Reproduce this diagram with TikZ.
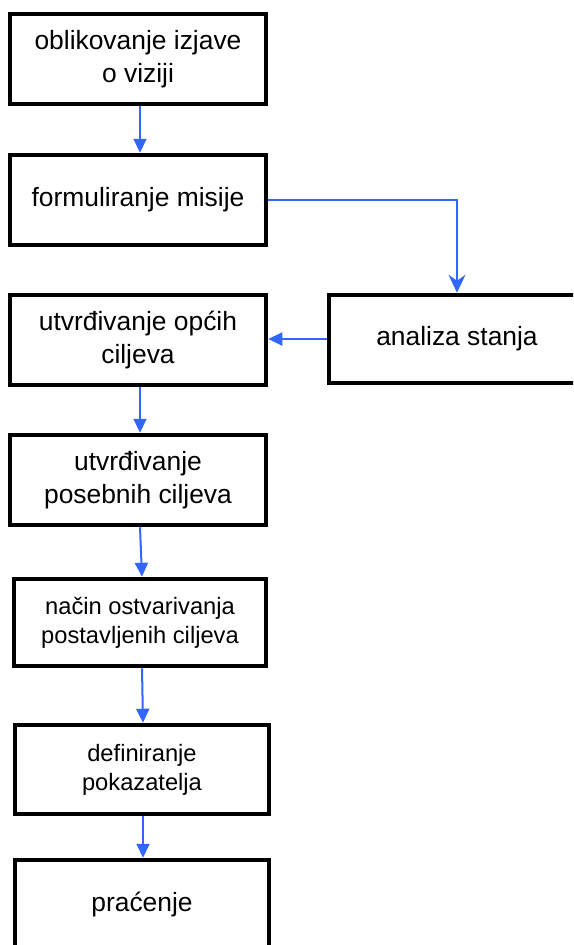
\documentclass[tikz,border=0pt]{standalone}
\usepackage{fontspec}
\setmainfont{Liberation Sans}
\usetikzlibrary{arrows.meta}
\definecolor{arrblue}{HTML}{3366FF}
\begin{document}
\begin{tikzpicture}[x=1pt,y=-1pt,
  box/.style={draw=black, line width=4.5pt, fill=white, rectangle, align=center,
    minimum width=256pt, minimum height=90pt, inner sep=0pt,
    font=\fontsize{26.4}{33}\selectfont},
  smallbox/.style={box, font=\fontsize{23.7}{29}\selectfont},
  flow/.style={draw=arrblue, line width=2pt, -{Triangle[length=14pt,width=13pt]}},
  flowv/.style={draw=arrblue, line width=2pt, -{Stealth[length=18pt,width=17pt,inset=6pt]}}]
\clip (0,0) rectangle (573,945);
\fill[white] (0,0) rectangle (573,945);
\node[box] (b1) at (138,59) {oblikovanje izjave\\o viziji};
\node[box] (b2) at (138,200) {formuliranje misije};
\node[box] (b3) at (138,340) {utvrđivanje općih\\ciljeva};
\node[box, minimum height=88pt] (an) at (457,339) {analiza stanja};
\node[box] (b4) at (138,480) {utvrđivanje\\posebnih ciljeva};
\node[smallbox, minimum height=87pt, minimum width=252pt] (b5) at (140,622.5) {način ostvarivanja\\postavljenih ciljeva};
\node[smallbox, minimum height=89pt, minimum width=254pt] (b6) at (142,769.5) {definiranje\\pokazatelja};
\node[box, minimum width=254pt] (b7) at (142,905) {praćenje};
\draw[flow] ([xshift=2pt]b1.south) -- ([xshift=2pt]b2.north);
\draw[flowv] (b2.east) -| (an.north);
\draw[flow] (an.west) -- (b3.east |- an.west);
\draw[flow] ([xshift=2pt]b3.south) -- ([xshift=2pt]b4.north);
\draw[flow] ([xshift=2pt]b4.south) -- ([xshift=2pt]b5.north);
\draw[flow] ([xshift=2pt]b5.south) -- ([xshift=1pt]b6.north);
\draw[flow] ([xshift=1pt]b6.south) -- ([xshift=1pt]b7.north);
\end{tikzpicture}
\end{document}
